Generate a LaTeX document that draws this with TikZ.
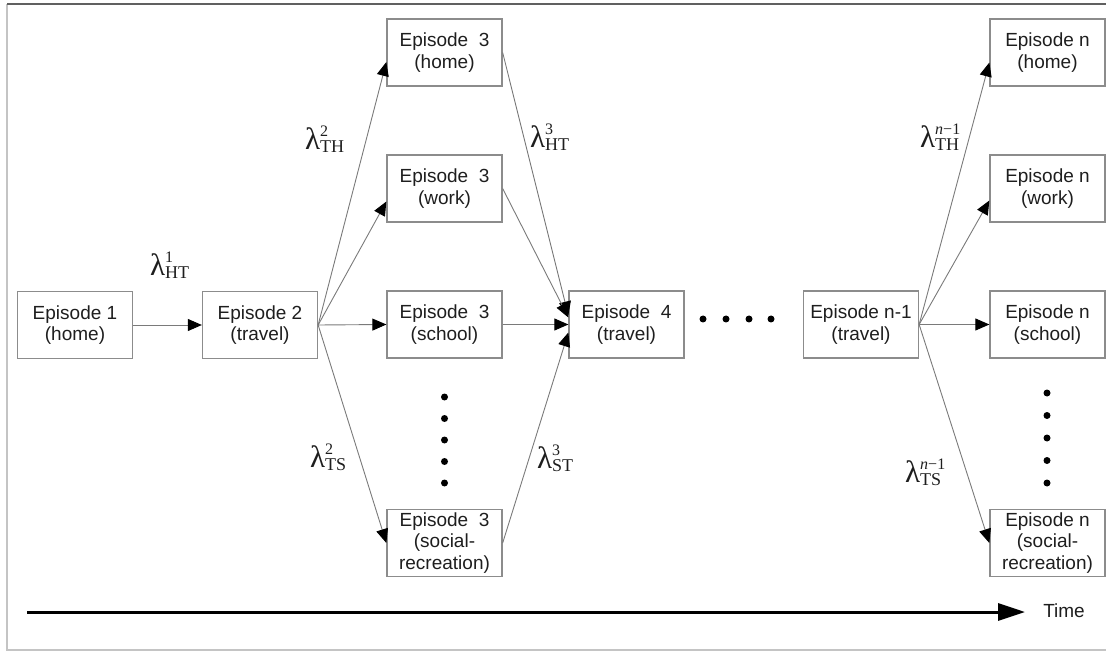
\documentclass[tikz,border=0pt]{standalone}
\usepackage{fontspec}
\setmainfont{Liberation Sans}
\newfontfamily\seriffont{Liberation Serif}
\usetikzlibrary{arrows.meta}
\definecolor{boxgray}{HTML}{8C8C8C}
\definecolor{linegray}{HTML}{7A7A7A}
\definecolor{framedark}{HTML}{606060}
\definecolor{framelight}{HTML}{C4C4C4}
\definecolor{txt}{HTML}{1E1E1E}
\newcommand\lamlab[2]{{\seriffont\fontsize{31}{31}\selectfont λ}\makebox[0pt][l]{\raisebox{13pt}{\seriffont\fontsize{16}{16}\selectfont #1}}\raisebox{-3pt}{\seriffont\fontsize{18}{18}\selectfont #2}}
\begin{document}
\begin{tikzpicture}[x=1pt,y=-1pt,
  epbox/.style={draw=boxgray, line width=1.3pt, minimum width=115pt, minimum height=67pt, inner sep=0pt, align=center, text=txt, font=\fontsize{19}{21.5}\selectfont},
  conn/.style={draw=linegray, line width=0.9pt, -{Triangle[length=14pt,width=12pt,color=black]}},
  lam/.style={anchor=base west, inner sep=0pt, text=txt},
  dotmark/.style={fill=black}]
\useasboundingbox (0,0) rectangle (1106,652);
% frame
\draw[framelight, line width=1.2pt] (7,4) -- (7,650) -- (1106,650);
\draw[framedark, line width=1.2pt] (7,4) -- (1106,4);
% boxes
\node[epbox] (e1) at (75,325) {Episode 1\\(home)};
\node[epbox] (e2) at (260,325) {Episode 2\\(travel)};
\node[epbox] (e3h) at (444.5,52.5) {Episode\ \ 3\\(home)};
\node[epbox] (e3w) at (444.5,188.5) {Episode\ \ 3\\(work)};
\node[epbox] (e3s) at (444.5,324.5) {Episode\ \ 3\\(school)};
\node[epbox] (e3r) at (444.5,543) {Episode\ \ 3\\(social-\\recreation)};
\node[epbox] (e4) at (626.5,324.5) {Episode\ \ 4\\(travel)};
\node[epbox] (en1) at (861,324.5) {Episode n-1\\(travel)};
\node[epbox] (enh) at (1047.5,52.5) {Episode n\\(home)};
\node[epbox] (enw) at (1047.5,188.5) {Episode n\\(work)};
\node[epbox] (ens) at (1047.5,324.5) {Episode n\\(school)};
\node[epbox] (enr) at (1047.5,543) {Episode n\\(social-\\recreation)};
% connectors
\draw[conn] (e1.east) -- (e2.west);
\draw[conn] (e2.east) -- ([yshift=-9.5pt]e3h.west);
\draw[conn] (e2.east) -- ([yshift=-13pt]e3w.west);
\draw[conn] (e2.east) -- (e3s.west);
\draw[conn] (e2.east) -- (e3r.west);
\draw[conn] (e3h.east) -- ([yshift=9pt]e4.west);
\draw[conn] (e3w.east) -- ([yshift=7pt]e4.west);
\draw[conn] (e3s.east) -- (e4.west);
\draw[conn] (e3r.east) -- ([yshift=-8pt]e4.west);
\draw[conn] (en1.east) -- ([yshift=-10pt]enh.west);
\draw[conn] (en1.east) -- ([yshift=-12pt]enw.west);
\draw[conn] (en1.east) -- (ens.west);
\draw[conn] (en1.east) -- (enr.west);
% labels
\node[lam] (l1) at (150,276) {\lamlab{1}{HT}};
\node[lam] (l2) at (305,150) {\lamlab{2}{TH}};
\node[lam] (l3) at (530,148) {\lamlab{3}{HT}};
\node[lam] (l4) at (310,467) {\lamlab{2}{TS}};
\node[lam] (l5) at (537,468) {\lamlab{3}{ST}};
\node[lam] (l6) at (920,148) {\lamlab{\textit{n}−1}{TH}};
\node[lam] (l7) at (905,482) {\lamlab{\textit{n}−1}{TS}};
% dots
\foreach \yy in {397,418.5,440,461.5,483} \fill[dotmark] (444.5,\yy) circle (3.5pt);
\foreach \yy in {393,415.5,438,460.5,483} \fill[dotmark] (1047,\yy) circle (3.5pt);
\foreach \xx in {703,726,749,771} \fill[dotmark] (\xx,319) circle (3.5pt);
% time axis
\coordinate (t0) at (27,612);
\coordinate (t1) at (1025,612);
\draw[line width=3pt, -{Triangle[length=27pt,width=17pt]}] (t0) -- (t1);
\node[text=txt, font=\fontsize{19}{21.5}\selectfont] (time) at (1064,611) {Time};
\end{tikzpicture}
\end{document}
